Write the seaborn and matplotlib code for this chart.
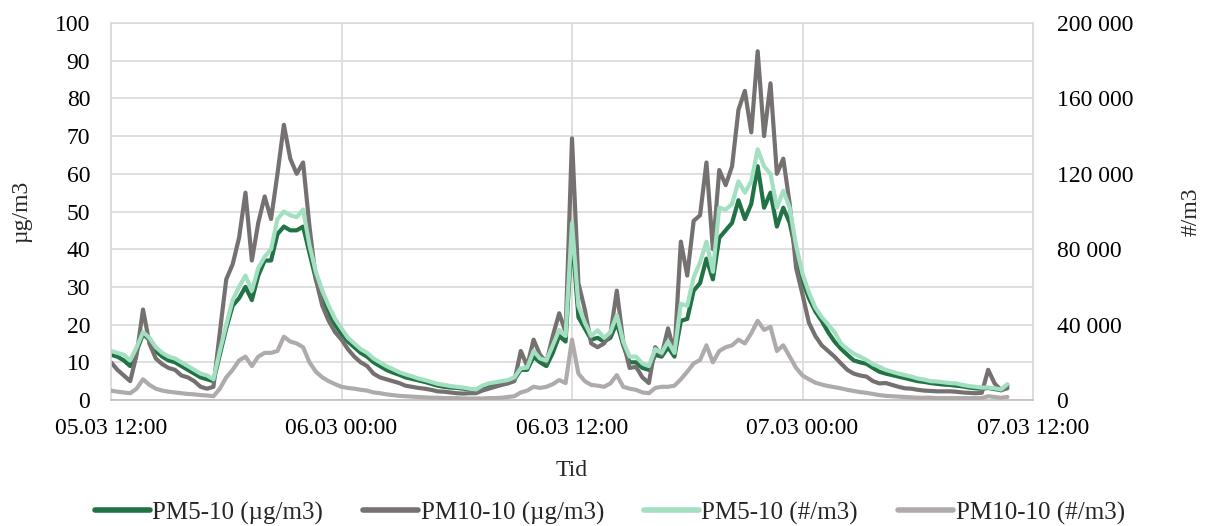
import pandas as pd
import seaborn as sns
import matplotlib.pyplot as plt
import matplotlib.dates as mdates
from matplotlib.ticker import MultipleLocator, FuncFormatter

# %%
# målinger hvert 20. minutt fra 05.03 12:00
tid = pd.date_range('2023-03-05 12:00', periods=141, freq='20min')

# PM5-10 og PM10-10, masse (µg/m3)
pm5_ug = [12, 11.5, 10.5, 9, 13, 17.5, 16, 13, 11.5, 10.5,
          10, 9, 8, 7, 6, 5.5, 5, 12, 19, 25,
          27, 30, 26.5, 33, 37, 37, 44, 46, 45, 45,
          46, 39, 32, 27, 23, 20, 17.5, 15.5, 14, 12.5,
          11.5, 10, 9, 8, 7.3, 6.7, 6, 5.6, 5.2, 4.8,
          4.3, 3.8, 3.5, 3.3, 3.2, 3.0, 2.8, 2.6, 3.5, 4,
          4.4, 4.7, 5, 5.5, 8, 8, 11.5, 10, 9, 12.5,
          17, 15.5, 44, 22, 19, 16, 16.5, 15.5, 16.5, 20.5,
          14.5, 10, 10, 8.5, 8, 12, 11.5, 14, 11.5, 21,
          21.5, 29, 31, 37.5, 32, 43, 45, 47, 53, 48,
          52, 62, 51, 55, 46, 51, 47, 39, 31.5, 27,
          23.5, 21, 18, 15.5, 13.6, 12, 10.5, 10, 9.6, 8.5,
          7.5, 7, 6.6, 6.2, 5.8, 5.4, 5, 4.8, 4.5, 4.3,
          4.1, 4.0, 3.8, 3.6, 3.3, 3.1, 3.0, 3.2, 2.9, 2.6,
          3.8]

pm10_ug = [10, 8, 6.5, 5, 12, 24, 15, 11, 9.5, 8.5,
           8, 6.5, 6, 5, 3.5, 3, 3.5, 18, 32, 36,
           43, 55, 37, 47, 54, 48, 60, 73, 64, 60,
           63, 46, 32, 25, 21, 18, 16, 13.5, 11.5, 10,
           9, 7, 6, 5.5, 5, 4.5, 3.8, 3.5, 3.2, 3,
           2.7, 2.3, 2.2, 2.0, 1.8, 1.7, 1.8, 1.8, 2.5, 3,
           3.5, 4, 4.4, 5, 13, 9, 16, 12, 10, 17,
           23, 18, 69.4, 31, 24, 15, 14, 15, 17.5, 29,
           15.5, 8.5, 8.8, 6, 4.5, 14, 12, 19, 12.5, 42,
           33, 47.5, 49, 63, 40, 61, 57, 62, 77, 82,
           71, 92.5, 70, 84, 60, 64, 52, 35, 28, 20.5,
           17, 14.5, 13, 11.5, 9.7, 8, 7, 6.5, 6.2, 5,
           4.4, 4.5, 4, 3.5, 3.1, 3, 2.7, 2.5, 2.4, 2.3,
           2.3, 2.3, 2.2, 2.0, 1.9, 1.8, 1.9, 8, 4.4, 2.6,
           3.1]

# PM5-10 og PM10-10, antall (#/m3)
pm5_antall = [26000, 25000, 24000, 21000, 28000, 36000, 33000, 28000, 25000, 23000,
              22000, 20000, 18000, 16000, 14000, 13000, 11000, 26000, 40000, 53000,
              60000, 66000, 58000, 70000, 76000, 80000, 96000, 100000, 98000, 97000,
              101000, 82000, 68000, 58000, 50000, 43000, 38000, 33000, 30000, 27000,
              25000, 22000, 20000, 18000, 16400, 14800, 13600, 12600, 11400, 10600,
              9600, 8600, 8000, 7400, 7000, 6600, 6000, 5600, 7600, 8800,
              9400, 10000, 10600, 12000, 16800, 17200, 26000, 22000, 21000, 29000,
              37200, 34000, 94000, 50000, 41000, 34000, 37000, 33000, 36000, 45000,
              31000, 23000, 23000, 19400, 18000, 27000, 25000, 31000, 25000, 51000,
              50000, 65000, 73000, 84000, 68000, 102000, 101000, 104000, 116000, 110000,
              116000, 133000, 124000, 120000, 102000, 111000, 102000, 82000, 67000, 57000,
              49000, 44000, 40000, 36000, 30000, 27000, 24600, 23000, 21200, 19000,
              17600, 16000, 15000, 14000, 13200, 12400, 11400, 10800, 10000, 9800,
              9400, 9000, 8800, 8000, 7400, 7000, 6600, 6600, 6200, 5600,
              8400]

pm10_antall = [5000, 4400, 4000, 3600, 6000, 11000, 8000, 6000, 5000, 4400,
               4000, 3600, 3200, 3000, 2600, 2400, 2000, 6000, 12000, 16000,
               21000, 23000, 18000, 23000, 25000, 25000, 26000, 33600, 31000, 30000,
               28000, 20000, 15000, 12000, 10000, 8400, 7000, 6400, 6000, 5400,
               5000, 4000, 3600, 3000, 2600, 2200, 2000, 1800, 1600, 1400,
               1200, 1200, 1000, 1000, 1000, 800, 800, 800, 800, 1000,
               1000, 1200, 1600, 2000, 4000, 5000, 7000, 6400, 7000, 8400,
               10600, 9000, 32000, 14000, 10000, 8000, 7600, 7000, 8800, 13200,
               7000, 6000, 5400, 4000, 3600, 6400, 7000, 7000, 7600, 11000,
               15000, 19400, 21200, 29000, 20000, 26000, 28000, 29000, 32000, 30000,
               35400, 42000, 37200, 38800, 26000, 29000, 23000, 17000, 13000, 11000,
               9200, 8200, 7400, 6800, 6200, 5400, 4800, 4200, 3800, 3200,
               2600, 2200, 2000, 1800, 1600, 1400, 1200, 1200, 1200, 1000,
               1000, 1000, 1000, 1000, 1000, 1000, 1000, 2000, 1600, 1200,
               1600]

x_ticks = pd.date_range('2023-03-05 12:00', periods=5, freq='12h')

df = pd.DataFrame({'Tid': tid,
                   'PM5-10 (µg/m3)': pm5_ug,
                   'PM10-10 (µg/m3)': pm10_ug,
                   'PM5-10 (#/m3)': pm5_antall,
                   'PM10-10 (#/m3)': pm10_antall})

# %%
sns.set_theme(style='white')
plt.rcParams['font.family'] = ['Liberation Serif', 'DejaVu Serif']
fs = 17

fig, ax = plt.subplots(figsize=(12.05, 5.26), dpi=100)
fig.subplots_adjust(left=111/1205, right=1033/1205, top=1 - 23/526, bottom=1 - 400/526)
ax2 = ax.twinx()

farger = {'PM5-10 (µg/m3)': '#217346', 'PM10-10 (µg/m3)': '#767171',
          'PM5-10 (#/m3)': '#A3DFC1', 'PM10-10 (#/m3)': '#AFABAB'}

for kol in ['PM5-10 (µg/m3)', 'PM10-10 (µg/m3)']:
    sns.lineplot(data=df, x='Tid', y=kol, ax=ax, color=farger[kol], lw=3, label=kol)
for kol in ['PM5-10 (#/m3)', 'PM10-10 (#/m3)']:
    sns.lineplot(data=df, x='Tid', y=kol, ax=ax2, color=farger[kol], lw=3, label=kol)

handles = ax.get_lines() + ax2.get_lines()
for a in (ax, ax2):
    if a.get_legend() is not None:
        a.get_legend().remove()

ax.set_xlim(x_ticks[0], x_ticks[-1])
ax.set_ylim(0, 100)
ax2.set_ylim(0, 200000)
ax.yaxis.set_major_locator(MultipleLocator(10))
ax2.yaxis.set_major_locator(MultipleLocator(40000))
ax2.yaxis.set_major_formatter(FuncFormatter(lambda v, p: f'{int(v):,}'.replace(',', ' ')))
ax.set_xticks(x_ticks)
ax.xaxis.set_major_formatter(mdates.DateFormatter('%d.%m %H:%M'))

ax.grid(True, color='#D9D9D9', lw=1.2)
for s in ax.spines.values():
    s.set_color('#D9D9D9')
    s.set_linewidth(1.2)
ax.spines['bottom'].set_color('#BFBFBF')
for s in ax2.spines.values():
    s.set_visible(False)

ax.tick_params(axis='both', length=0, labelsize=fs, colors='black')
ax.tick_params(axis='y', pad=15)
ax.tick_params(axis='x', pad=13)
ax2.tick_params(axis='y', length=0, labelsize=fs, pad=17, colors='black')

ax.set_xlabel('Tid', fontsize=fs, labelpad=15)
ax.set_ylabel('µg/m3', fontsize=fs, labelpad=16)
ax2.set_ylabel('#/m3', fontsize=fs, labelpad=34)

leg = fig.legend(handles, [h.get_label() for h in handles], loc='lower center',
                 bbox_to_anchor=(0.506, -0.04), ncol=4, frameon=False, fontsize=18,
                 handlelength=2.2, handletextpad=0.1, columnspacing=1.6)
for h in leg.get_lines():
    h.set_linewidth(4)

fig.savefig('out.png', dpi=100)
